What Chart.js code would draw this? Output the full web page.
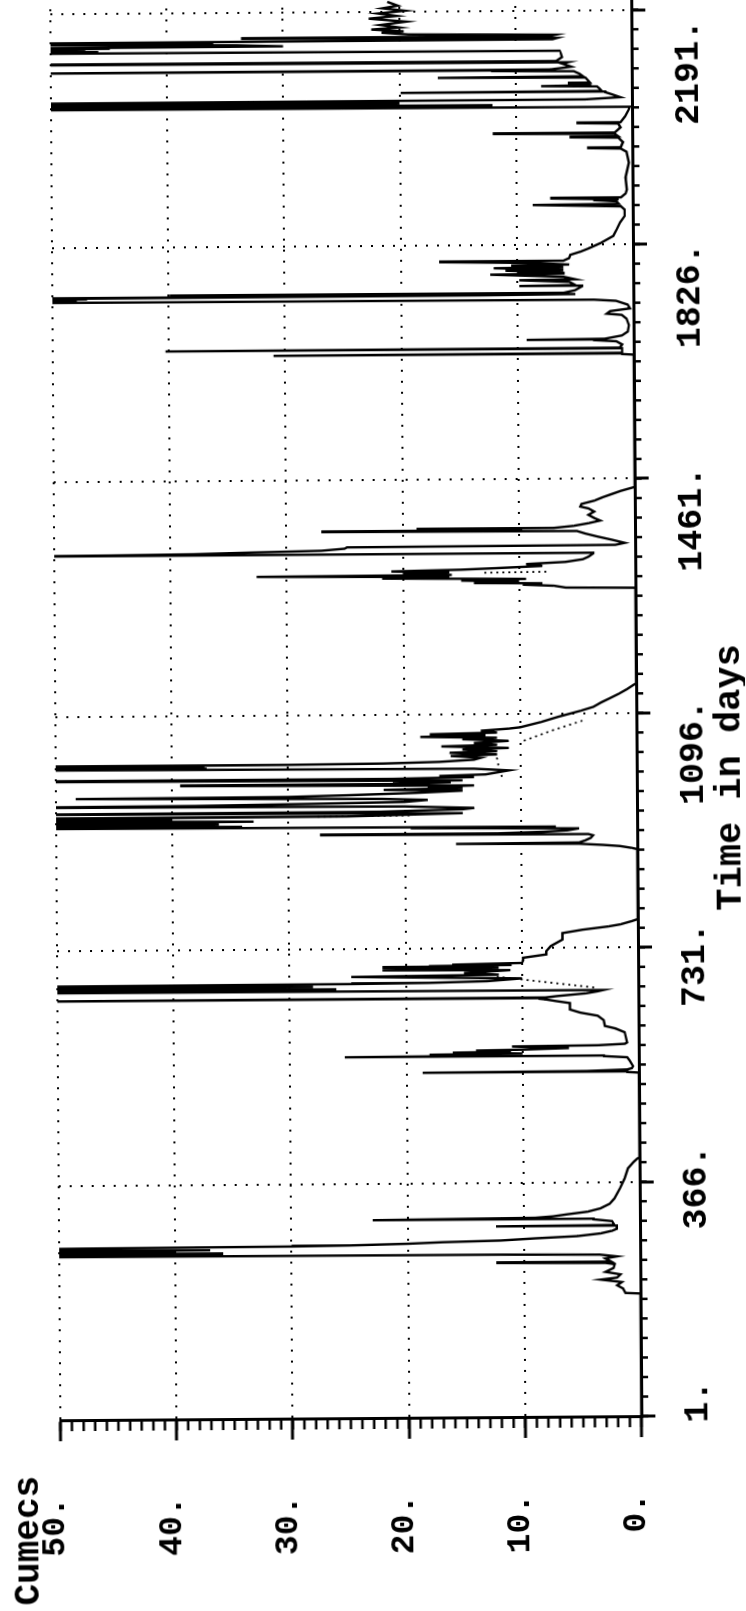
<!DOCTYPE html>
<html>
<head>
<meta charset="utf-8">
<script src="https://cdn.jsdelivr.net/npm/chart.js@4/dist/chart.umd.min.js"></script>
<style>
  html, body { margin: 0; padding: 0; background: #fff; overflow: hidden; }
  #page { position: relative; width: 746px; height: 1611px; overflow: hidden; transform: rotate(-0.41deg); }
  /* the plot is drawn landscape and turned onto the portrait sheet */
  #flow { position: absolute; left: 0; top: 0; transform-origin: 0 0; transform: translate(0, 1611px) rotate(-90deg); }
</style>
</head>
<body>
<div id="page"><canvas id="flow" width="1660" height="746"></canvas></div>
<script>
// daily flow record, one line per year of the record
const days = [
  1, 190, 192, 193, 200, 205, 210, 214, 217, 222, 226, 232, 238, 240, 241, 242, 247, 250, 253, 254, 255, 256, 257, 258, 259, 260, 261, 262, 263, 264, 265, 266, 267, 268, 269, 270, 272, 274, 276, 279, 282, 286, 290, 293, 297, 298, 299, 305, 308, 309, 310, 311, 313, 316, 320, 325, 332, 340, 356, 371, 387, 397, 402, 404,
  536, 537, 538, 539, 541, 543, 546, 555, 560, 562, 563, 564, 566, 567, 569, 570, 572, 573, 575, 578, 579, 581, 583, 599, 605, 609, 618, 625, 630, 635, 645, 648, 651, 652, 653, 654, 656, 660, 663, 665, 666, 667, 668, 669, 670, 671, 672, 673, 674, 675, 676, 677, 678, 680, 684, 688, 690, 693, 697, 698, 699, 700, 701, 702, 703, 704, 705, 706, 708, 712, 716, 721, 726, 734, 744, 754, 759, 764, 767, 772, 775,
  884, 886, 889, 891, 893, 894, 895, 898, 902, 906, 908, 909, 910, 912, 914, 917, 919, 920, 922, 923, 925, 927, 929, 931, 933, 935, 937, 938, 940, 942, 944, 945, 948, 950, 953, 955, 956, 958, 960, 963, 965, 968, 969, 971, 974, 977, 979, 981, 983, 985, 987, 988, 990, 992, 993, 995, 996, 998, 1000, 1002, 1005, 1008, 1011, 1013, 1014, 1016, 1017, 1018, 1019, 1020, 1022, 1025, 1028, 1031, 1033, 1036, 1038, 1041, 1043, 1046, 1048, 1051, 1054, 1057, 1059, 1061, 1063, 1065, 1067, 1070, 1073, 1075, 1083, 1091, 1100, 1106, 1113, 1119, 1126, 1133, 1140, 1142,
  1291, 1292, 1295, 1297, 1299, 1300, 1302, 1304, 1306, 1308, 1310, 1312, 1313, 1315, 1317, 1319, 1321, 1323, 1326, 1329, 1332, 1336, 1340, 1345, 1346, 1347, 1348, 1350, 1352, 1355, 1357, 1358, 1361, 1366, 1371, 1376, 1380, 1381, 1382, 1384, 1385, 1388, 1392, 1396, 1400, 1405, 1410, 1415, 1418, 1422, 1427, 1432, 1437, 1442, 1448,
  1654, 1655, 1656, 1657, 1663, 1664, 1665, 1670, 1675, 1677, 1678, 1679, 1684, 1690, 1700, 1710, 1716, 1718, 1722, 1726, 1732, 1738, 1740, 1741, 1742, 1743, 1744, 1745, 1746, 1747, 1748, 1749, 1750, 1751, 1755, 1761, 1762, 1763, 1768, 1771, 1772, 1776, 1780, 1781, 1782, 1783, 1786, 1787, 1790, 1791, 1794, 1795, 1798, 1800, 1801, 1805, 1810, 1815, 1820, 1828, 1839, 1849, 1860, 1870, 1880, 1885, 1888, 1889, 1893, 1895, 1896, 1898, 1899, 1905, 1911, 1930, 1953, 1970, 1975, 1976, 1977, 1985, 1992, 1993, 1994, 1998, 1999, 2000, 2008, 2014, 2015, 2016, 2025, 2035, 2040, 2041, 2042, 2043, 2044, 2045, 2046, 2047, 2048, 2049, 2050, 2051, 2052, 2055, 2060, 2063, 2064, 2065, 2069, 2072, 2073, 2074, 2077, 2078, 2082, 2086, 2087, 2088, 2092, 2096, 2097, 2098, 2099, 2103, 2108, 2110, 2111, 2112, 2118, 2124, 2128, 2129, 2130, 2131, 2132, 2133, 2134, 2135, 2136, 2137, 2138, 2140, 2142, 2143, 2144, 2145, 2146, 2148, 2150, 2151, 2153, 2155, 2158, 2160, 2163, 2166, 2170, 2175, 2180, 2184, 2188, 2192, 2196, 2200, 2206
];
const flow = [
  0, 0, 0, 1.3, 1.5, 2.0, 1.6, 3.4, 2.0, 1.7, 3.0, 2.3, 2.2, 3.0, 12.4, 2.5, 3.0, 2.0, 3.5, 12, 56, 38, 60, 36, 55, 42, 58, 40, 62, 37, 55, 46, 57, 48, 30, 25, 20, 17, 12, 9, 5.4, 3.4, 2.4, 2.0, 2.0, 12.4, 2.2, 2.4, 4, 23, 16, 9, 7.5, 6.3, 4.5, 3.4, 2.6, 2.2, 1.7, 1.3, 1.0, 0.5, 0.2, 0,
  0, 1.0, 18.6, 4.5, 1.0, 0.6, 0.5, 0.8, 1.0, 3, 25.3, 12, 18, 10, 16, 11, 14, 10, 6, 10.9, 3.5, 1.2, 1.0, 1.2, 2.0, 2.9, 3.0, 3.5, 5.0, 5.9, 5.9, 7, 8.0, 8.5, 58, 8, 7, 4.5, 3.5, 3.0, 58, 30, 60, 26, 55, 35, 62, 28, 52, 32, 57, 24.7, 18, 13, 10, 24.7, 12, 15, 11, 22, 13, 20, 12, 22, 14, 18, 11, 16, 10, 9.9, 9.9, 7.9, 7.9, 7.5, 6.5, 6.5, 4.8, 2.5, 1.5, 0.5, 0,
  0, 0.5, 1.5, 3, 5, 15.6, 5, 4.5, 4, 3.8, 4.2, 27.3, 12, 8, 6, 5, 19.5, 7, 60, 34, 58, 36, 62, 33, 55, 40, 56, 25, 20, 15, 58, 22, 15, 14, 20, 60, 38, 28, 20, 18, 22, 48.3, 30, 25, 19, 15, 21.8, 15, 18, 14, 39.3, 20, 16, 21, 15, 58, 21, 14, 17, 13, 12, 11, 14, 55, 37, 60, 37.2, 57, 30, 21.8, 17, 14, 13.4, 16, 12, 16.1, 12, 15, 11, 16.8, 12, 14, 11, 15, 12, 18.6, 13, 17.8, 12, 13.4, 11, 10, 8.2, 6.7, 4.8, 3.7, 3.0, 2.3, 1.5, 0.8, 0.2, 0,
  0, 6.0, 7, 9.7, 8, 13.9, 10, 15, 9.4, 21.8, 16, 32.6, 15.8, 20, 16, 21, 15, 12, 8, 9.4, 6, 4.5, 4, 3.6, 60, 45, 38, 33, 27, 25, 24.8, 1.7, 0.9, 2, 3.2, 4.3, 5.0, 27, 9.7, 18.8, 7, 5.3, 4.0, 3.0, 3.5, 4.0, 3.5, 4.0, 4.7, 4.6, 3.5, 2.8, 2.0, 1.2, 0,
  0, 1, 31, 1.0, 1.0, 40.3, 1.2, 1.0, 1.5, 3.4, 9.2, 2.5, 1.0, 0.5, 0.4, 0.6, 1.0, 2.3, 2.0, 0.3, 0.5, 1.5, 3.4, 58, 48, 60, 49, 57, 47, 55, 13, 5, 39.9, 6, 5, 4.4, 9.8, 5, 5.5, 9.8, 5, 6, 12.3, 6, 10, 6, 11, 6, 12, 6, 10.5, 5.5, 9, 16.7, 6, 5.5, 5.4, 4.5, 3.8, 2.8, 1.7, 1.4, 1.1, 0.7, 0.7, 1.0, 8.6, 1.2, 1.4, 3.4, 1.2, 7.1, 1.0, 0.6, 0.5, 0.6, 0.3, 0.5, 1.0, 3.9, 1.0, 0.8, 1.2, 5.4, 1.2, 1.5, 12, 1.5, 1.0, 1.2, 4.8, 1.0, 0.6, 0.3, 0.2, 56, 40, 60, 12, 52, 38, 58, 20, 54, 45, 60, 4, 1.0, 1.8, 2.3, 19.9, 2.6, 2.8, 3.0, 7.8, 3.5, 5.5, 3.6, 3.8, 4.0, 16.7, 4.2, 4.5, 5.0, 12, 58, 7, 5.2, 6, 5.5, 60, 6.5, 6.0, 6.1, 6.2, 57, 46, 60, 47, 55, 48, 62, 45, 58, 30, 34, 52, 36, 58, 48, 6.8, 6.4, 33.6, 7, 6.5, 19.2, 21.5, 19.6, 22.4, 20, 21.6, 19.4, 22.6, 20.2, 21.8, 19.5, 21.4, 20.1, 21
];

// dotted trace, short pieces broken by nulls
const altDays = [669, 678, 687, 688, 938, 939, 940, 998, 1016, 1034, 1035, 1054, 1070, 1086, 1087, 1316, 1317, 1318, 2147, 2151, 2154];
const altFlow = [3.8, 8, 12.2, null, 27.5, 19.5, null, 11.6, 11.9, 12.1, null, 9.7, 7.2, 4.4, null, 13, 7.4, null, 6.8, 12, 18.5];

const dayTicks = [1, 366, 731, 1096, 1461, 1826, 2191];
const flowTicks = [0, 10, 20, 30, 40, 50];

const monoFont = "'Liberation Mono', 'Courier New', monospace";

// the plotter set the day labels slightly off their ticks; offsets in px
const dayLabelShift = [14, -6, -18, -40, -41, -52, -63];

// month ticks, unit ticks, day labels and the two captions
const extras = {
  id: 'extras',
  afterDraw(chart) {
    const { ctx } = chart;
    const x = chart.scales.x, y = chart.scales.y;
    ctx.save();
    ctx.strokeStyle = '#000';
    ctx.lineWidth = 2.5;
    ctx.beginPath();
    for (let v = 0; v <= 50; v++) {
      const py = y.getPixelForValue(v);
      ctx.moveTo(y.right - 10, py);
      ctx.lineTo(y.right, py);
    }
    for (let m = 0; ; m++) {
      const d = 1 + m * 365 / 12;
      if (d > x.max) break;
      const px = x.getPixelForValue(d);
      ctx.moveTo(px, x.top);
      ctx.lineTo(px, x.top + 7);
    }
    ctx.stroke();

    ctx.fillStyle = '#000';
    ctx.textBaseline = 'middle';
    ctx.textAlign = 'center';
    ctx.font = 'bold 35px ' + monoFont;
    dayTicks.forEach((v, i) => {
      ctx.fillText(v + '.', x.getPixelForValue(v) + dayLabelShift[i], 694);
    });
    ctx.font = 'bold 37px ' + monoFont;
    ctx.fillText('Time in days', 831, 731);
    ctx.textAlign = 'left';
    ctx.font = 'bold 36px ' + monoFont;
    ctx.fillText('Cumecs', 8, 24);
    ctx.restore();
  }
};

const dotted = [2, 9];

new Chart(document.getElementById('flow'), {
  type: 'line',
  data: {
    datasets: [
      {
        data: days.map((d, i) => ({ x: d, y: flow[i] })),
        borderColor: '#000',
        borderWidth: 2.4,
        pointRadius: 0,
        tension: 0,
        clip: 0
      },
      {
        data: altDays.map((d, i) => ({ x: d, y: altFlow[i] })),
        borderColor: '#000',
        borderWidth: 1.8,
        borderDash: [2, 4],
        pointRadius: 0,
        spanGaps: false,
        clip: 0
      }
    ]
  },
  options: {
    responsive: false,
    animation: false,
    devicePixelRatio: 1,
    layout: { padding: { top: 56, right: 0, bottom: 0, left: 0 } },
    plugins: { legend: { display: false }, tooltip: { enabled: false } },
    scales: {
      x: {
        type: 'linear',
        min: -0.5,
        max: 2285.4,
        afterBuildTicks: s => { s.ticks = dayTicks.map(v => ({ value: v })); },
        afterFit: s => { s.height = 109; s.paddingLeft = 0; s.paddingRight = 0; },
        ticks: { display: false },
        grid: {
          color: c => (c.tick && c.tick.value === 1) ? 'rgba(0,0,0,0)' : '#000',
          lineWidth: 2, tickLength: 14, tickWidth: 3, tickColor: '#000'
        },
        border: { color: '#000', width: 3, dash: dotted }
      },
      y: {
        min: 0,
        max: 50,
        afterBuildTicks: s => { s.ticks = flowTicks.map(v => ({ value: v })); },
        afterFit: s => { s.width = 192; s.paddingTop = 0; s.paddingBottom = 0; },
        ticks: {
          callback: v => v + '.',
          font: { family: monoFont, size: 33, weight: 'bold' },
          color: '#000', padding: 56, labelOffset: -5
        },
        grid: { color: '#000', lineWidth: 2, tickLength: 20, tickWidth: 3, tickColor: '#000' },
        border: { color: '#000', width: 3, dash: dotted }
      }
    }
  },
  plugins: [extras]
});
</script>
</body>
</html>
